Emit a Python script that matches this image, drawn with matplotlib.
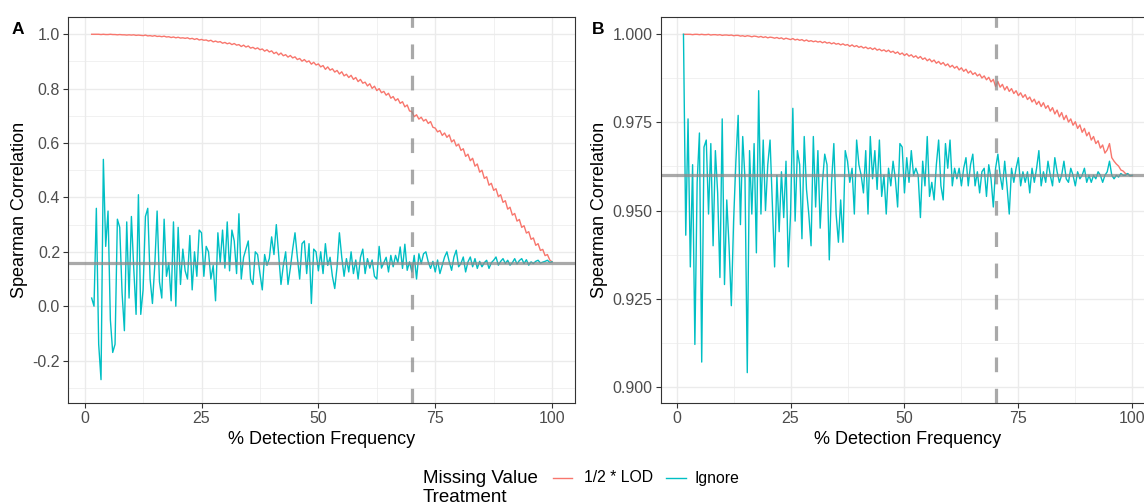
import matplotlib
matplotlib.use('Agg')
import matplotlib.pyplot as plt
from matplotlib.lines import Line2D

plt.rcParams['font.family'] = ['Liberation Sans', 'DejaVu Sans']

# % detection frequency grid (shared by both panels)
freq = [1.5, 2.0, 2.5, 3.0, 3.5, 4.0, 4.5, 5.0, 5.5, 6.0,
        6.5, 7.0, 7.5, 8.0, 8.5, 9.0, 9.5, 10.0, 10.5, 11.0,
        11.5, 12.0, 12.5, 13.0, 13.5, 14.0, 14.5, 15.0, 15.5, 16.0,
        16.5, 17.0, 17.5, 18.0, 18.5, 19.0, 19.5, 20.0, 20.5, 21.0,
        21.5, 22.0, 22.5, 23.0, 23.5, 24.0, 24.5, 25.0, 25.5, 26.0,
        26.5, 27.0, 27.5, 28.0, 28.5, 29.0, 29.5, 30.0, 30.5, 31.0,
        31.5, 32.0, 32.5, 33.0, 33.5, 34.0, 34.5, 35.0, 35.5, 36.0,
        36.5, 37.0, 37.5, 38.0, 38.5, 39.0, 39.5, 40.0, 40.5, 41.0,
        41.5, 42.0, 42.5, 43.0, 43.5, 44.0, 44.5, 45.0, 45.5, 46.0,
        46.5, 47.0, 47.5, 48.0, 48.5, 49.0, 49.5, 50.0, 50.5, 51.0,
        51.5, 52.0, 52.5, 53.0, 53.5, 54.0, 54.5, 55.0, 55.5, 56.0,
        56.5, 57.0, 57.5, 58.0, 58.5, 59.0, 59.5, 60.0, 60.5, 61.0,
        61.5, 62.0, 62.5, 63.0, 63.5, 64.0, 64.5, 65.0, 65.5, 66.0,
        66.5, 67.0, 67.5, 68.0, 68.5, 69.0, 69.5, 70.0, 70.5, 71.0,
        71.5, 72.0, 72.5, 73.0, 73.5, 74.0, 74.5, 75.0, 75.5, 76.0,
        76.5, 77.0, 77.5, 78.0, 78.5, 79.0, 79.5, 80.0, 80.5, 81.0,
        81.5, 82.0, 82.5, 83.0, 83.5, 84.0, 84.5, 85.0, 85.5, 86.0,
        86.5, 87.0, 87.5, 88.0, 88.5, 89.0, 89.5, 90.0, 90.5, 91.0,
        91.5, 92.0, 92.5, 93.0, 93.5, 94.0, 94.5, 95.0, 95.5, 96.0,
        96.5, 97.0, 97.5, 98.0, 98.5, 99.0, 99.5, 100.0]

# panel A
lod_a = [1.000, 1.000, 1.000, 1.000, 0.999, 1.000, 0.999, 0.999, 1.000, 0.999,
         0.999, 0.998, 0.999, 0.998, 0.998, 0.997, 0.998, 0.997, 0.998, 0.996,
         0.997, 0.996, 0.995, 0.997, 0.994, 0.995, 0.993, 0.995, 0.992, 0.993,
         0.991, 0.993, 0.990, 0.991, 0.988, 0.990, 0.987, 0.989, 0.986, 0.987,
         0.985, 0.987, 0.983, 0.985, 0.981, 0.984, 0.979, 0.981, 0.978, 0.979,
         0.975, 0.978, 0.972, 0.975, 0.971, 0.973, 0.967, 0.970, 0.965, 0.968,
         0.962, 0.966, 0.960, 0.962, 0.955, 0.960, 0.953, 0.957, 0.949, 0.952,
         0.946, 0.950, 0.943, 0.946, 0.938, 0.943, 0.935, 0.939, 0.929, 0.934,
         0.924, 0.931, 0.921, 0.925, 0.916, 0.922, 0.913, 0.917, 0.907, 0.911,
         0.901, 0.907, 0.898, 0.902, 0.890, 0.897, 0.887, 0.891, 0.880, 0.885,
         0.871, 0.880, 0.868, 0.873, 0.861, 0.867, 0.854, 0.862, 0.847, 0.853,
         0.841, 0.849, 0.834, 0.841, 0.826, 0.834, 0.820, 0.824, 0.810, 0.818,
         0.801, 0.809, 0.793, 0.800, 0.785, 0.790, 0.776, 0.783, 0.765, 0.771,
         0.756, 0.763, 0.746, 0.752, 0.733, 0.740, 0.718, 0.716, 0.697, 0.704,
         0.688, 0.695, 0.681, 0.687, 0.672, 0.679, 0.658, 0.655, 0.641, 0.646,
         0.628, 0.637, 0.621, 0.630, 0.604, 0.612, 0.589, 0.596, 0.573, 0.579,
         0.551, 0.559, 0.535, 0.544, 0.515, 0.523, 0.493, 0.500, 0.470, 0.476,
         0.445, 0.452, 0.426, 0.432, 0.403, 0.410, 0.382, 0.388, 0.357, 0.364,
         0.335, 0.341, 0.313, 0.319, 0.290, 0.296, 0.269, 0.274, 0.246, 0.251,
         0.224, 0.230, 0.205, 0.209, 0.186, 0.190, 0.170, 0.163]

ignore_a = [0.03, 0.00, 0.36, -0.14, -0.27, 0.54, 0.22, 0.35, -0.05, -0.17,
            -0.14, 0.32, 0.29, 0.05, -0.09, 0.31, 0.03, 0.33, 0.14, -0.03,
            0.41, -0.03, 0.06, 0.33, 0.36, 0.10, 0.01, 0.15, 0.35, 0.09,
            0.03, 0.32, 0.11, 0.16, 0.02, 0.31, 0.00, 0.29, 0.08, 0.21,
            0.13, 0.10, 0.26, 0.06, 0.20, 0.11, 0.28, 0.27, 0.11, 0.22,
            0.20, 0.10, 0.15, 0.02, 0.27, 0.16, 0.28, 0.14, 0.31, 0.13,
            0.28, 0.24, 0.12, 0.34, 0.10, 0.18, 0.21, 0.24, 0.10, 0.08,
            0.20, 0.19, 0.12, 0.06, 0.19, 0.15, 0.175, 0.255, 0.19, 0.30,
            0.19, 0.08, 0.15, 0.20, 0.08, 0.14, 0.21, 0.27, 0.18, 0.10,
            0.23, 0.24, 0.12, 0.23, 0.01, 0.21, 0.20, 0.13, 0.20, 0.12,
            0.23, 0.15, 0.18, 0.11, 0.065, 0.145, 0.27, 0.18, 0.11, 0.175,
            0.126, 0.20, 0.12, 0.17, 0.10, 0.18, 0.21, 0.12, 0.175, 0.14,
            0.17, 0.11, 0.10, 0.22, 0.14, 0.16, 0.18, 0.126, 0.187, 0.145,
            0.187, 0.16, 0.218, 0.139, 0.228, 0.132, 0.163, 0.126, 0.187, 0.10,
            0.193, 0.157, 0.193, 0.20, 0.163, 0.139, 0.165, 0.126, 0.17, 0.12,
            0.151, 0.181, 0.20, 0.163, 0.132, 0.181, 0.206, 0.145, 0.157, 0.181,
            0.126, 0.163, 0.181, 0.145, 0.175, 0.139, 0.165, 0.145, 0.160, 0.169,
            0.139, 0.160, 0.169, 0.181, 0.151, 0.165, 0.175, 0.157, 0.169, 0.151,
            0.160, 0.175, 0.155, 0.168, 0.175, 0.157, 0.171, 0.151, 0.163, 0.157,
            0.165, 0.169, 0.159, 0.162, 0.165, 0.169, 0.161, 0.163]

# panel B
lod_b = [1.0000, 1.0000, 1.0000, 1.0000, 0.9999, 1.0000, 1.0000, 0.9999, 1.0000, 0.9999,
         0.9999, 1.0000, 0.9998, 0.9999, 0.9999, 0.9998, 0.9999, 0.9997, 0.9998, 0.9998,
         0.9997, 0.9998, 0.9996, 0.9997, 0.9997, 0.9995, 0.9996, 0.9994, 0.9996, 0.9995,
         0.9993, 0.9995, 0.9994, 0.9992, 0.9994, 0.9991, 0.9993, 0.9990, 0.9992, 0.9991,
         0.9989, 0.9991, 0.9988, 0.9990, 0.9986, 0.9989, 0.9987, 0.9985, 0.9988, 0.9984,
         0.9986, 0.9983, 0.9985, 0.9981, 0.9984, 0.9980, 0.9982, 0.9979, 0.9981, 0.9978,
         0.9980, 0.9976, 0.9979, 0.9975, 0.9977, 0.9973, 0.9976, 0.9972, 0.9974, 0.9970,
         0.9973, 0.9969, 0.9971, 0.9966, 0.9970, 0.9965, 0.9968, 0.9963, 0.9966, 0.9961,
         0.9964, 0.9959, 0.9962, 0.9957, 0.9961, 0.9955, 0.9958, 0.9953, 0.9956, 0.9951,
         0.9955, 0.9949, 0.9952, 0.9946, 0.9950, 0.9943, 0.9947, 0.9940, 0.9945, 0.9938,
         0.9942, 0.9935, 0.9939, 0.9932, 0.9937, 0.9929, 0.9933, 0.9925, 0.9930, 0.9922,
         0.9927, 0.9918, 0.9923, 0.9915, 0.9920, 0.9911, 0.9916, 0.9907, 0.9912, 0.9904,
         0.9909, 0.9899, 0.9905, 0.9895, 0.9901, 0.9890, 0.9896, 0.9886, 0.9891, 0.9882,
         0.9887, 0.9876, 0.9882, 0.9871, 0.9878, 0.9865, 0.9872, 0.9852, 0.9866, 0.9850,
         0.9858, 0.9842, 0.9852, 0.9838, 0.9846, 0.9832, 0.9840, 0.9826, 0.9834, 0.9821,
         0.9829, 0.9815, 0.9822, 0.9808, 0.9816, 0.9801, 0.9810, 0.9795, 0.9806, 0.9790,
         0.9798, 0.9782, 0.9792, 0.9774, 0.9785, 0.9766, 0.9778, 0.9758, 0.9770, 0.9751,
         0.9760, 0.9742, 0.9752, 0.9733, 0.9743, 0.9722, 0.9733, 0.9712, 0.9722, 0.9700,
         0.9710, 0.9690, 0.9698, 0.9677, 0.9686, 0.9663, 0.9672, 0.9690, 0.9650, 0.9640,
         0.9632, 0.9626, 0.9615, 0.9612, 0.9605, 0.9603, 0.9600, 0.9598]

ignore_b = [1.000, 0.943, 0.976, 0.934, 0.963, 0.912, 0.958, 0.972, 0.907, 0.968,
            0.970, 0.949, 0.969, 0.940, 0.967, 0.955, 0.931, 0.976, 0.929, 0.953,
            0.940, 0.923, 0.947, 0.964, 0.977, 0.946, 0.971, 0.959, 0.904, 0.967,
            0.949, 0.969, 0.938, 0.984, 0.949, 0.970, 0.950, 0.963, 0.970, 0.952,
            0.934, 0.960, 0.944, 0.961, 0.948, 0.964, 0.934, 0.949, 0.979, 0.947,
            0.967, 0.963, 0.942, 0.971, 0.956, 0.949, 0.940, 0.971, 0.951, 0.967,
            0.945, 0.958, 0.966, 0.963, 0.936, 0.958, 0.969, 0.949, 0.941, 0.953,
            0.941, 0.967, 0.964, 0.958, 0.962, 0.949, 0.970, 0.963, 0.960, 0.955,
            0.967, 0.949, 0.971, 0.959, 0.967, 0.956, 0.970, 0.954, 0.960, 0.949,
            0.962, 0.957, 0.964, 0.959, 0.951, 0.969, 0.968, 0.955, 0.965, 0.958,
            0.967, 0.960, 0.962, 0.960, 0.948, 0.964, 0.957, 0.971, 0.954, 0.958,
            0.953, 0.963, 0.970, 0.957, 0.953, 0.969, 0.962, 0.970, 0.957, 0.962,
            0.959, 0.962, 0.957, 0.962, 0.965, 0.957, 0.963, 0.966, 0.957, 0.961,
            0.955, 0.961, 0.962, 0.954, 0.963, 0.959, 0.951, 0.962, 0.966, 0.960,
            0.956, 0.964, 0.957, 0.949, 0.962, 0.958, 0.962, 0.965, 0.957, 0.961,
            0.958, 0.961, 0.955, 0.962, 0.958, 0.962, 0.967, 0.957, 0.961, 0.958,
            0.964, 0.960, 0.957, 0.965, 0.961, 0.958, 0.960, 0.964, 0.959, 0.958,
            0.962, 0.960, 0.957, 0.961, 0.959, 0.960, 0.962, 0.958, 0.960, 0.958,
            0.960, 0.959, 0.961, 0.960, 0.958, 0.960, 0.961, 0.964, 0.960, 0.959,
            0.960, 0.9595, 0.9605, 0.960, 0.960, 0.9605, 0.9598, 0.960]

baseline_a = 0.16
baseline_b = 0.96
cutoff = 70

yticks_a = [-0.2, 0.0, 0.2, 0.4, 0.6, 0.8, 1.0]
ylabels_a = ['-0.2', '0.0', '0.2', '0.4', '0.6', '0.8', '1.0']
yminor_a = [-0.3, -0.1, 0.1, 0.3, 0.5, 0.7, 0.9]
yticks_b = [0.900, 0.925, 0.950, 0.975, 1.000]
ylabels_b = ['0.900', '0.925', '0.950', '0.975', '1.000']
yminor_b = [0.9125, 0.9375, 0.9625, 0.9875]

RED = '#F8766D'
TEAL = '#00BFC4'
REF = '#8C8C8C'

W, H = 1144, 504
fig = plt.figure(figsize=(W / 100, H / 100), dpi=100)
axA = fig.add_axes([68.3 / W, 100.7 / H, 506.7 / W, 386.6 / H])
axB = fig.add_axes([660.7 / W, 100.7 / H, 493.9 / W, 386.6 / H])


def style(ax, yticks, ylabels, yminor, ylim):
    ax.set_xlim(-3.5, 104.9)
    ax.set_ylim(*ylim)
    ax.set_xticks([0, 25, 50, 75, 100])
    ax.set_xticks([12.5, 37.5, 62.5, 87.5], minor=True)
    ax.set_yticks(yticks)
    ax.set_yticklabels(ylabels)
    ax.set_yticks(yminor, minor=True)
    ax.grid(which='major', color='#EBEBEB', lw=1.0)
    ax.grid(which='minor', color='#EBEBEB', lw=0.5)
    ax.set_axisbelow(True)
    ax.tick_params(which='major', length=3.4, width=0.8, color='#333333',
                   labelsize=11.5, labelcolor='#4D4D4D', pad=2.5)
    ax.tick_params(which='minor', length=0)
    for s in ax.spines.values():
        s.set_color('#333333')
        s.set_linewidth(0.8)
    ax.set_xlabel('% Detection Frequency', fontsize=13, labelpad=3)
    ax.set_ylabel('Spearman Correlation', fontsize=13, labelpad=3)


for ax, lod, ign, base in [(axA, lod_a, ignore_a, baseline_a),
                           (axB, lod_b, ignore_b, baseline_b)]:
    ax.plot(freq, lod, color=RED, lw=1.0)
    ax.plot(freq, ign, color=TEAL, lw=1.0)
    ax.axhline(base, color=REF, lw=2.3, alpha=0.75)
    ax.axvline(cutoff, color=REF, lw=2.3, alpha=0.75, dashes=(4.6, 5.2))

style(axA, yticks_a, ylabels_a, yminor_a, (-0.357, 1.0646))
style(axB, yticks_b, ylabels_b, yminor_b, (0.8953, 1.005))

fig.text(12 / W, 1 - 34 / H, 'A', fontsize=12.5, fontweight='bold', va='baseline')
fig.text(592 / W, 1 - 34 / H, 'B', fontsize=12.5, fontweight='bold', va='baseline')

# legend
fig.text(423 / W, 1 - 483 / H, 'Missing Value', fontsize=13.5, va='baseline')
fig.text(423 / W, 1 - 502 / H, 'Treatment', fontsize=13.5, va='baseline')
ky = 1 - 478 / H
fig.add_artist(Line2D([553 / W, 572 / W], [ky, ky], color=RED, lw=1.0,
                      transform=fig.transFigure))
fig.text(584 / W, ky, '1/2 * LOD', fontsize=11.3, va='center')
fig.add_artist(Line2D([666 / W, 686 / W], [ky, ky], color=TEAL, lw=1.0,
                      transform=fig.transFigure))
fig.text(694 / W, ky, 'Ignore', fontsize=11.3, va='center')

fig.savefig('out.png', dpi=100)
